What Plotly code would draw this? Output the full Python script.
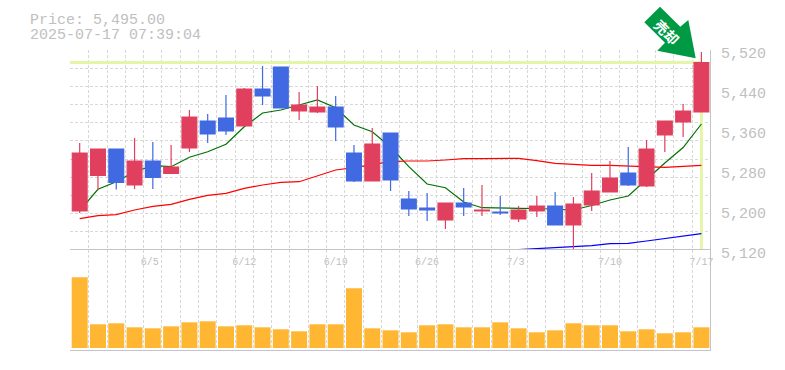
import plotly.graph_objects as go

W, H = 785, 370

categories = list(range(35))
tick_positions = [4, 9, 14, 19, 24, 29, 34]
tick_labels = ["6/5\u00a0", "6/12", "6/19", "6/26", "7/3\u00a0", "7/10", "7/17"]

open_ = [5198,5269,5322,5250,5298,5273,5324,5378,5384,5368,5442,5486,5398,5396,5406,5314,5258,5354,5222,5204,5180,5214,5198,5196,5182,5198,5208,5170,5210,5236,5274,5248,5350,5376,5396]
close = [5314,5322,5255,5298,5265,5286,5386,5352,5358,5442,5428,5404,5410,5406,5366,5258,5332,5260,5202,5200,5214,5206,5200,5194,5200,5208,5170,5212,5238,5264,5250,5322,5378,5398,5495]
high = [5334,5322,5322,5344,5336,5330,5400,5392,5430,5444,5488,5486,5436,5448,5428,5330,5364,5354,5238,5234,5214,5244,5250,5228,5208,5228,5236,5226,5274,5298,5326,5340,5378,5412,5516]
low = [5194,5240,5241,5242,5242,5273,5316,5334,5350,5368,5410,5404,5380,5394,5338,5256,5258,5238,5188,5178,5162,5188,5188,5190,5176,5186,5170,5120,5198,5236,5248,5246,5316,5346,5396]

ma_short = [5198.6,5241.4,5256.6,5276.6,5288.6,5286.6,5305.4,5316.6,5331.4,5366.6,5394,5400,5410,5420,5404.6,5370,5356.6,5326,5286.6,5252,5244.6,5216,5204.6,5203.4,5203.4,5203,5202,5200,5209,5220,5228,5262,5294,5325,5372]
ma_mid = [5182.6,5188.6,5190.6,5200,5207.4,5211.4,5221.4,5229.4,5233.4,5243.4,5250,5255.4,5256.6,5268,5280,5284.6,5290,5296.6,5298,5298,5300,5302.6,5302.6,5302.6,5303.4,5298.6,5293.4,5291.4,5289.4,5289.4,5288,5287.4,5285.4,5287.4,5289.4]
ma_long = [None]*24 + [5120.8,5123,5125.4,5126.6,5128.6,5132.6,5133.4,5138,5142.6,5148,5152.6]
volume = [70.7,23.7,24.7,20.7,19.7,21.7,25.7,26.7,21.7,22.7,20.7,18.7,16.7,23.7,23.7,59.7,19.7,17.7,15.7,22.7,23.7,20.7,20.7,25.7,19.7,15.7,17.7,24.7,22.7,22.7,16.7,18.7,14.7,15.7,20.7]
price_ticks = [5120, 5200, 5280, 5360, 5440, 5520]
price_tick_labels = ["5,120", "5,200", "5,280", "5,360", "5,440", "5,520"]
current_price = 5495
price_label = "Price: 5,495.00"
time_label = "2025-07-17 07:39:04"
signal_label = "売却"

GRAY = "#c4c4c4"
GRID = "#d8d8d8"
TXT = "#c0c0c0"
MONO = "Liberation Mono, monospace"
XR = [-0.53, 34.47]
YR = [5120, 5520]
VR = [-2, 98]

def px(v): return v / W
def py(v): return 1 - v / H

x_dom = [px(70), px(710)]
top_dom = [py(250), py(50)]
vol_dom = [py(350), py(250)]
lab_dom = [py(253), py(53)]
edges = [i - 0.5 for i in range(36)]
hgrid = [YR[0] + (YR[1] - YR[0]) * k / 11 for k in range(12)]

fig = go.Figure()
last = categories[-1]
fig.add_trace(go.Scatter(x=[XR[0], last], y=[current_price, current_price], mode="lines",
                         line=dict(color="#e4f5a8", width=3), xaxis="x", yaxis="y", hoverinfo="skip"))
fig.add_trace(go.Scatter(x=[last, last], y=[current_price, YR[0]+2], mode="lines",
                         line=dict(color="#e4f5a8", width=3), xaxis="x", yaxis="y", hoverinfo="skip"))
fig.add_trace(go.Scatter(x=categories, y=ma_short, mode="lines", line=dict(color="#007000", width=1.2), xaxis="x", yaxis="y"))
fig.add_trace(go.Scatter(x=categories, y=ma_mid, mode="lines", line=dict(color="#ff0000", width=1.2), xaxis="x", yaxis="y"))
fig.add_trace(go.Scatter(x=categories, y=ma_long, mode="lines", line=dict(color="#0000ff", width=1.2), xaxis="x", yaxis="y", cliponaxis=False))
fig.add_trace(go.Bar(x=categories, y=volume, marker=dict(color="#ffb733", line=dict(width=0)), width=0.875, xaxis="x2", yaxis="y2"))
fig.add_trace(go.Candlestick(x=categories, open=open_, high=high, low=low, close=close, xaxis="x3", yaxis="y3",
                             whiskerwidth=0,
                             increasing=dict(line=dict(color="#e0405e", width=1.2), fillcolor="#e0405e"),
                             decreasing=dict(line=dict(color="#4169e1", width=1.2), fillcolor="#4169e1")))
fig.add_trace(go.Scatter(x=categories, y=close, mode="lines", opacity=0, line=dict(width=0), xaxis="x3", yaxis="y4", hoverinfo="skip"))

dash = "3px,2px"
fig.update_layout(
    width=W, height=H, margin=dict(l=0, r=0, t=0, b=0, pad=0, autoexpand=False), showlegend=False,
    paper_bgcolor="white", plot_bgcolor="rgba(0,0,0,0)", boxgap=0.19, boxgroupgap=0,
    font=dict(family=MONO, color=TXT, size=15),
    xaxis=dict(domain=x_dom, range=XR, tickmode="array", tickvals=edges, showticklabels=False, ticks="",
               showgrid=True, gridcolor=GRID, griddash=dash, gridwidth=1, zeroline=False, showline=False, anchor="y"),
    yaxis=dict(domain=top_dom, range=YR, tickmode="array", tickvals=hgrid, showticklabels=False, ticks="",
               showgrid=True, gridcolor=GRID, griddash=dash, gridwidth=1, zeroline=False, side="right",
               showline=True, linecolor=GRAY, linewidth=1, anchor="x"),
    xaxis2=dict(domain=x_dom, range=XR, tickmode="array", tickvals=edges, showticklabels=False, ticks="",
                showgrid=True, gridcolor=GRID, griddash=dash, gridwidth=1, zeroline=False,
                showline=True, linecolor=GRAY, linewidth=1, mirror=True, anchor="y2"),
    yaxis2=dict(domain=vol_dom, range=VR, showticklabels=False, ticks="", showgrid=False, zeroline=False, side="right",
                showline=True, linecolor=GRAY, linewidth=1, anchor="x2"),
    xaxis3=dict(range=XR, overlaying="x", anchor="y3", rangeslider=dict(visible=False), tickmode="array",
                tickvals=tick_positions, ticktext=tick_labels, ticks="outside", ticklen=2, tickcolor="rgba(0,0,0,0)",
                tickfont=dict(family=MONO, size=10, color=TXT), showgrid=False, zeroline=False, tickangle=0, showline=False),
    yaxis3=dict(domain=top_dom, range=YR, overlaying="y", anchor="x3", visible=False),
    yaxis4=dict(domain=lab_dom, range=YR, anchor="free", position=x_dom[1], side="right", tickmode="array",
                tickvals=price_ticks, ticktext=price_tick_labels, ticks="outside", ticklen=7, tickcolor="rgba(0,0,0,0)",
                tickfont=dict(family=MONO, size=15, color=TXT), showgrid=False, zeroline=False, showline=False),
    shapes=[dict(type="path", xref="paper", yref="paper", fillcolor="#009944", line=dict(width=0), layer="above",
                 path="M {} {} L {} {} L {} {} L {} {} L {} {} L {} {} L {} {} Z".format(
                     px(660), py(6.7), px(680.3), py(26.7), px(688.3), py(20), px(695.7), py(58.3),
                     px(657.3), py(50.7), px(665), py(42.7), px(644.3), py(22.3)))],
    annotations=[
        dict(text=price_label, xref="paper", yref="paper", x=px(27.5), y=py(20), xanchor="left", yanchor="middle", showarrow=False,
             font=dict(family=MONO, size=15, color=TXT)),
        dict(text=time_label, xref="paper", yref="paper", x=px(27.5), y=py(35), xanchor="left", yanchor="middle", showarrow=False,
             font=dict(family=MONO, size=15, color=TXT)),
        dict(text="<b>" + signal_label + "</b>", xref="paper", yref="paper", x=px(667), y=py(32), xanchor="center", yanchor="middle", showarrow=False,
             textangle=45, font=dict(family="Noto Sans CJK JP", size=14, color="white")),
    ],
)
fig.write_html("out.html", config=dict(displayModeBar=False),
               post_script="document.body.style.margin='0';document.body.style.overflow='hidden';")
